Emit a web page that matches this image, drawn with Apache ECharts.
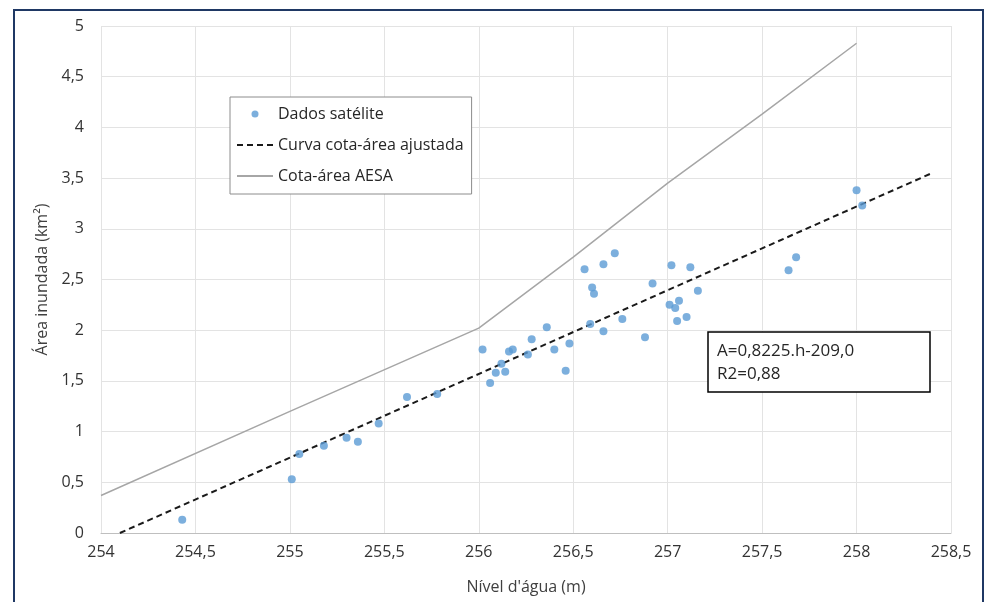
<!DOCTYPE html>
<html>
<head>
<meta charset="utf-8">
<script src="https://cdn.jsdelivr.net/npm/echarts@6/dist/echarts.min.js"></script>
<style>
  html, body { margin: 0; padding: 0; background: #fff; }
  #chart { width: 986px; height: 602px; }
</style>
</head>
<body>
<div id="chart"></div>
<script>
// satellite observations [level (m), area (km2)]
const satLevel = [254.43, 255.01, 255.05, 255.18, 255.30, 255.36, 255.47, 255.62, 255.78,
  256.02, 256.06, 256.09, 256.12, 256.14, 256.16, 256.18, 256.26, 256.28, 256.36, 256.40,
  256.46, 256.48, 256.56, 256.59, 256.60, 256.61, 256.66, 256.66, 256.72, 256.76, 256.88,
  256.92, 257.01, 257.02, 257.04, 257.05, 257.06, 257.10, 257.12, 257.16, 257.64, 257.68,
  258.00, 258.03];
const satArea = [0.13, 0.53, 0.78, 0.86, 0.94, 0.90, 1.08, 1.34, 1.37,
  1.81, 1.48, 1.58, 1.67, 1.59, 1.79, 1.81, 1.76, 1.91, 2.03, 1.81,
  1.60, 1.87, 2.60, 2.06, 2.42, 2.36, 2.65, 1.99, 2.76, 2.11, 1.93,
  2.46, 2.25, 2.64, 2.22, 2.09, 2.29, 2.13, 2.62, 2.39, 2.59, 2.72,
  3.38, 3.23];

// fitted curve A = 0.8225.h - 209.0 (end points)
const fitLevel = [254.1, 258.4];
const fitArea = [0.0, 3.55];

// AESA cota-area curve
const aesaLevel = [254, 255, 256, 256.5, 257, 257.5, 258];
const aesaArea = [0.37, 1.20, 2.02, 2.72, 3.45, 4.13, 4.83];

const pair = (xs, ys) => xs.map((x, i) => [x, ys[i]]);
const comma = v => String(v).replace('.', ',');
const font = 'Open Sans, Noto Sans, sans-serif';

const chart = echarts.init(document.getElementById('chart'));
chart.setOption({
  animation: false,
  backgroundColor: '#fff',
  grid: { left: 101, right: 35, top: 26, bottom: 69 },
  legend: {
    orient: 'vertical',
    left: 230, top: 97,
    padding: [9, 8, 10, 6],
    itemGap: 15,
    itemWidth: 36, itemHeight: 7,
    borderColor: '#8c8c8c', borderWidth: 1,
    backgroundColor: '#fff',
    textStyle: { fontFamily: font, fontSize: 16, color: '#262626' },
    data: [
      { name: 'Dados satélite' },
      { name: 'Curva cota-área ajustada', itemStyle: { opacity: 0 } },
      { name: 'Cota-área AESA', itemStyle: { opacity: 0 } }
    ]
  },
  xAxis: {
    type: 'value',
    min: 254, max: 258.5, interval: 0.5,
    name: "Nível d'água (m)",
    nameLocation: 'middle', nameGap: 46,
    nameTextStyle: { fontFamily: font, fontSize: 16, color: '#404040' },
    axisLine: { show: true, onZero: false, lineStyle: { color: '#bfbfbf', width: 1 } },
    axisTick: { show: false },
    axisLabel: { formatter: comma, fontFamily: font, fontSize: 16, color: '#333', margin: 11 },
    splitLine: { show: true, lineStyle: { color: '#e3e3e3' } }
  },
  yAxis: {
    type: 'value',
    min: 0, max: 5, interval: 0.5,
    name: 'Área inundada (km²)',
    nameLocation: 'middle', nameGap: 46, nameRotate: 90,
    nameTextStyle: { fontFamily: font, fontSize: 16, color: '#404040' },
    axisLine: { show: false },
    axisTick: { show: false },
    axisLabel: { formatter: comma, fontFamily: font, fontSize: 16, color: '#333', margin: 17 },
    splitLine: { show: true, lineStyle: { color: '#e3e3e3' } }
  },
  series: [
    {
      name: 'Dados satélite',
      type: 'scatter',
      symbolSize: 8,
      itemStyle: { color: '#5b9bd5' },
      data: pair(satLevel, satArea),
      z: 5
    },
    {
      name: 'Curva cota-área ajustada',
      type: 'line',
      symbol: 'none',
      lineStyle: { color: '#1a1a1a', width: 2, type: [6, 4] },
      itemStyle: { color: '#1a1a1a' },
      data: pair(fitLevel, fitArea),
      z: 4
    },
    {
      name: 'Cota-área AESA',
      type: 'line',
      symbol: 'none',
      lineStyle: { color: '#a6a6a6', width: 1.5 },
      itemStyle: { color: '#a6a6a6' },
      data: pair(aesaLevel, aesaArea),
      z: 3
    }
  ],
  graphic: [
    {
      type: 'rect',
      shape: { x: 14, y: 10, width: 969, height: 600 },
      style: { fill: 'none', stroke: '#1f3864', lineWidth: 2 },
      silent: true
    },
    {
      type: 'rect',
      shape: { x: 708, y: 332, width: 222, height: 60 },
      style: { fill: '#fff', stroke: '#000', lineWidth: 1.5 },
      z: 10
    },
    {
      type: 'text',
      left: 717, top: 340,
      style: {
        text: 'A=0,8225.h-209,0\nR2=0,88',
        font: '17px ' + font,
        lineHeight: 23,
        fill: '#262626'
      },
      z: 11
    }
  ]
});
</script>
</body>
</html>
